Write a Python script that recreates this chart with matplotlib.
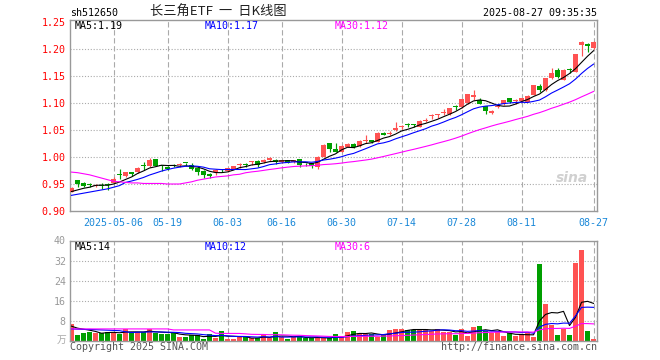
import numpy as np
import pandas as pd
from matplotlib import pyplot as plt

plt.rcParams['font.family'] = ['DejaVu Sans Mono', 'Noto Sans CJK SC']

# daily candles, 2025-04-22 .. 2025-08-27
open_ = [0.936, 0.957, 0.951, 0.950, 0.947, 0.947, 0.949, 0.952, 0.969, 0.964,
         0.972, 0.972, 0.984, 0.983, 0.996, 0.984, 0.982, 0.985, 0.985, 0.989,
         0.986, 0.979, 0.974, 0.969, 0.972, 0.977, 0.974, 0.978, 0.985, 0.987,
         0.990, 0.993, 0.990, 0.995, 0.995, 0.990, 0.994, 0.990, 0.996, 0.989,
         0.988, 0.981, 1.000, 1.025, 1.014, 1.010, 1.019, 1.024, 1.020, 1.030,
         1.031, 1.028, 1.045, 1.043, 1.050, 1.056, 1.061, 1.060, 1.056, 1.067,
         1.075, 1.078, 1.082, 1.079, 1.094, 1.092, 1.100, 1.112, 1.106, 1.094,
         1.081, 1.093, 1.098, 1.109, 1.103, 1.104, 1.102, 1.115, 1.131, 1.124,
         1.147, 1.162, 1.143, 1.162, 1.158, 1.207, 1.210, 1.201]
high = [0.944, 0.958, 0.954, 0.952, 0.950, 0.952, 0.951, 0.963, 0.977, 0.973,
        0.973, 0.981, 0.991, 0.998, 0.997, 0.985, 0.983, 0.987, 0.988, 0.989,
        0.988, 0.980, 0.976, 0.970, 0.978, 0.977, 0.980, 0.984, 0.988, 0.988,
        0.993, 0.994, 0.997, 1.000, 0.997, 0.995, 0.995, 0.995, 0.997, 0.989,
        0.989, 1.002, 1.024, 1.025, 1.025, 1.022, 1.026, 1.025, 1.031, 1.040,
        1.032, 1.046, 1.046, 1.048, 1.065, 1.060, 1.063, 1.062, 1.068, 1.072,
        1.080, 1.080, 1.088, 1.091, 1.097, 1.108, 1.117, 1.124, 1.110, 1.095,
        1.087, 1.097, 1.106, 1.110, 1.108, 1.110, 1.114, 1.134, 1.135, 1.147,
        1.165, 1.165, 1.163, 1.165, 1.191, 1.215, 1.212, 1.214]
low = [0.935, 0.944, 0.944, 0.945, 0.945, 0.940, 0.939, 0.951, 0.959, 0.963,
       0.965, 0.971, 0.976, 0.982, 0.983, 0.974, 0.976, 0.981, 0.981, 0.983,
       0.976, 0.967, 0.962, 0.962, 0.967, 0.972, 0.972, 0.977, 0.980, 0.982,
       0.986, 0.982, 0.989, 0.993, 0.987, 0.989, 0.988, 0.989, 0.981, 0.983,
       0.979, 0.978, 1.000, 1.010, 1.009, 1.009, 1.018, 1.017, 1.019, 1.025,
       1.025, 1.027, 1.040, 1.040, 1.048, 1.052, 1.055, 1.055, 1.055, 1.064,
       1.070, 1.072, 1.078, 1.078, 1.087, 1.091, 1.099, 1.106, 1.098, 1.079,
       1.080, 1.090, 1.097, 1.100, 1.098, 1.102, 1.101, 1.114, 1.120, 1.123,
       1.145, 1.146, 1.142, 1.156, 1.157, 1.187, 1.195, 1.200]
close = [0.943, 0.950, 0.947, 0.949, 0.948, 0.946, 0.948, 0.959, 0.967, 0.972,
         0.969, 0.980, 0.983, 0.994, 0.984, 0.983, 0.977, 0.984, 0.986, 0.988,
         0.977, 0.972, 0.967, 0.964, 0.976, 0.976, 0.979, 0.984, 0.986, 0.986,
         0.991, 0.986, 0.995, 0.999, 0.990, 0.994, 0.988, 0.994, 0.986, 0.988,
         0.983, 1.000, 1.022, 1.014, 1.010, 1.020, 1.024, 1.019, 1.030, 1.031,
         1.028, 1.045, 1.041, 1.044, 1.054, 1.057, 1.060, 1.059, 1.067, 1.068,
         1.076, 1.079, 1.083, 1.090, 1.093, 1.107, 1.116, 1.113, 1.099, 1.086,
         1.086, 1.094, 1.105, 1.101, 1.104, 1.109, 1.113, 1.133, 1.124, 1.146,
         1.155, 1.149, 1.162, 1.161, 1.191, 1.213, 1.206, 1.213]
# volume, unit: 10k (万)
volume = [6.6, 2.1, 3.1, 3.6, 3.1, 3.0, 3.4, 3.6, 2.7, 4.5,
          3.4, 3.4, 3.4, 4.5, 3.1, 2.7, 2.7, 3.1, 1.6, 1.6,
          2.1, 2.1, 0.7, 2.5, 1.2, 3.9, 0.7, 0.7, 1.6, 1.3,
          0.9, 0.9, 2.5, 0.9, 3.4, 1.6, 0.7, 1.3, 1.9, 0.9,
          1.2, 1.0, 1.0, 1.2, 2.7, 1.4, 3.5, 4.0, 2.9, 2.5,
          2.5, 1.4, 2.5, 4.3, 4.7, 4.7, 4.3, 4.3, 4.3, 4.7,
          4.0, 4.5, 3.5, 3.5, 2.1, 4.7, 1.8, 5.5, 5.9, 4.0,
          2.9, 3.4, 1.8, 2.9, 1.8, 2.5, 2.9, 1.6, 30.7, 14.7,
          6.3, 2.1, 4.8, 2.3, 31.2, 36.3, 4.0, 0.7]

# moving-average values before enough history is on the chart
ma5_head = [0.936, 0.939, 0.942, 0.944]
ma10_head = [0.929, 0.931, 0.933, 0.935, 0.937, 0.939, 0.941, 0.944, 0.947]
ma30_head = [0.972, 0.971, 0.969, 0.967, 0.964, 0.961, 0.958, 0.955, 0.954, 0.953,
             0.952, 0.952, 0.951, 0.951, 0.951, 0.951, 0.950, 0.950, 0.950, 0.952,
             0.954, 0.957, 0.959, 0.961, 0.963, 0.964, 0.965, 0.967, 0.968]
vma5_head = [5.8, 5.0, 4.6, 4.2]
vma10_head = [4.7, 4.6, 4.5, 4.5, 4.4, 4.3, 4.2, 4.1, 4.0]
vma30_head = [4.7] * 17 + [4.3] * 7 + [3.0, 2.9, 2.9, 2.9, 2.9]

tick_idx = [7, 16, 26, 35, 45, 55, 65, 75, 87]
tick_labels = ['2025-05-06', '05-19', '06-03', '06-16', '06-30',
               '07-14', '07-28', '08-11', '08-27']


def with_head(values, n, head):
    ma = pd.Series(values).rolling(n).mean().to_numpy()
    ma[:len(head)] = head
    return ma


RED = '#ff5252'
GREEN = '#009f00'
GRID = '#aaaaaa'
FRAME = '#999999'

x = np.arange(len(close))
o = np.array(open_)
c = np.array(close)
colors = [RED if cc >= oo else GREEN for oo, cc in zip(o, c)]

fig = plt.figure(figsize=(6.6, 3.6), dpi=100)
W, H = 660, 360


def axes_px(left, top, right, bottom):
    return fig.add_axes([left / W, 1 - bottom / H, (right - left) / W, (bottom - top) / H])


ax = axes_px(70, 20, 597, 211)
axv = axes_px(70, 240.5, 597, 340.7)
xlim = (-0.25, 87.58)

# price panel
for t in tick_idx:
    ax.axvline(t, color=GRID, lw=0.8, linestyle=(0, (4.8, 2.4)), zorder=0)
for yv in [0.95, 1.00, 1.05, 1.10, 1.15, 1.20]:
    ax.axhline(yv, color=GRID, lw=0.8, linestyle=(0, (1, 1.6)), zorder=0)

ax.vlines(x, low, high, colors=colors, lw=0.85, zorder=2)
body = np.maximum(np.abs(c - o), 0.0019)
ax.bar(x, body, bottom=np.minimum(o, c), width=0.74, color=colors, linewidth=0, zorder=3)

ax.plot(x, with_head(close, 5, ma5_head), color='black', lw=0.8, zorder=4)
ax.plot(x, with_head(close, 10, ma10_head), color='#0000ff', lw=0.8, zorder=4)
ax.plot(x, with_head(close, 30, ma30_head), color='#ff00ff', lw=0.8, zorder=4)

ax.set_xlim(*xlim)
ax.set_ylim(0.90, 1.2537)
ax.set_yticks(np.arange(0.90, 1.26, 0.05))
ax.set_yticklabels(['%.2f' % v for v in np.arange(0.90, 1.26, 0.05)])
ax.tick_params(axis='y', length=0, pad=3, labelsize=7.2, labelcolor='#ff0000')
ax.set_xticks(tick_idx)
ax.set_xticklabels(tick_labels)
ax.tick_params(axis='x', length=0, pad=5, labelsize=7.2, labelcolor='#1a88d8')

# volume panel
for t in tick_idx:
    axv.axvline(t, color=GRID, lw=0.8, linestyle=(0, (4.8, 2.4)), zorder=0)
for yv in [8, 16, 24, 32]:
    axv.axhline(yv, color=GRID, lw=0.8, linestyle=(0, (1, 1.6)), zorder=0)

axv.bar(x, volume, width=0.78, color=colors, linewidth=0, zorder=2)
axv.plot(x, with_head(volume, 5, vma5_head), color='black', lw=0.8, zorder=4)
axv.plot(x, with_head(volume, 10, vma10_head), color='#0000ff', lw=0.8, zorder=4)
axv.plot(x, with_head(volume, 30, vma30_head), color='#ff00ff', lw=0.8, zorder=4)

axv.set_xlim(*xlim)
axv.set_ylim(0, 40)
axv.set_yticks([8, 16, 24, 32, 40])
axv.tick_params(axis='y', length=0, pad=3, labelsize=7.2, labelcolor='#999999')
axv.set_xticks([])

for a in (ax, axv):
    for s in a.spines.values():
        s.set_color(FRAME)
        s.set_linewidth(1.0)

# header / legends / footer
fig.text(70 / W, 1 - 13 / H, 'sh512650', fontsize=7.2, va='center', ha='left')
fig.text(150 / W, 1 - 12 / H, '长三角ETF  一  日K线图', fontsize=9.5, va='center', ha='left',
         family=['Noto Sans CJK SC', 'DejaVu Sans'], color='#222222')
fig.text(597 / W, 1 - 13 / H, '2025-08-27 09:35:35', fontsize=7.2, va='center', ha='right')

fig.text(75 / W, 1 - 26 / H, 'MA5:1.19', fontsize=7.2, va='center', color='black')
fig.text(205 / W, 1 - 26 / H, 'MA10:1.17', fontsize=7.2, va='center', color='#0000ff')
fig.text(335 / W, 1 - 26 / H, 'MA30:1.12', fontsize=7.2, va='center', color='#ff00ff')

fig.text(75 / W, 1 - 246.5 / H, 'MA5:14', fontsize=7.2, va='center', color='black')
fig.text(205 / W, 1 - 246.5 / H, 'MA10:12', fontsize=7.2, va='center', color='#0000ff')
fig.text(335 / W, 1 - 246.5 / H, 'MA30:6', fontsize=7.2, va='center', color='#ff00ff')

fig.text(66 / W, 1 - 340 / H, '万', fontsize=7, va='center', ha='right', color='#aaaaaa',
         family=['Noto Sans CJK SC', 'DejaVu Sans'])

fig.text(70 / W, 1 - 346.5 / H, 'Copyright 2025 SINA.COM', fontsize=7.2, va='center',
         ha='left', color='#555555')
fig.text(597 / W, 1 - 346.5 / H, 'http://finance.sina.com.cn', fontsize=7.2, va='center',
         ha='right', color='#555555')

fig.text(572 / W, 1 - 178 / H, 'sina', fontsize=10, va='center', ha='center', color='#d0d0d0',
         style='italic', weight='bold', family='DejaVu Sans')

fig.savefig('out.png', dpi=100)
